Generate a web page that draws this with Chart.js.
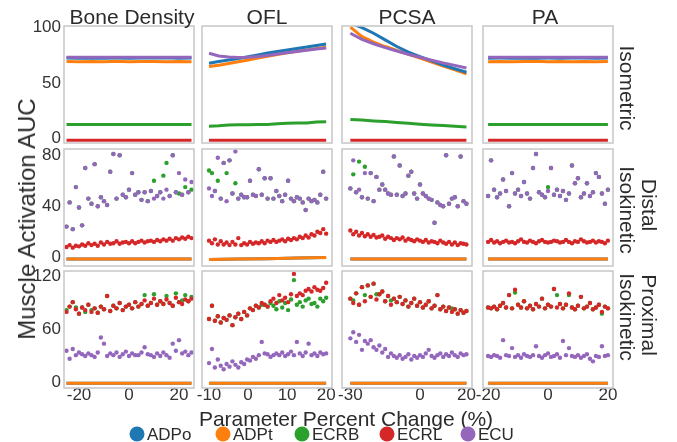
<!DOCTYPE html>
<html>
<head>
<meta charset="utf-8">
<script src="https://cdn.jsdelivr.net/npm/chart.js@4.4.1/dist/chart.umd.min.js"></script>
<style>
  body { margin: 0; background: #fff; font-family: "Liberation Sans", Arial, sans-serif; color: #2b2b2b; }
  #wrap { position: relative; width: 677px; height: 442px; overflow: hidden; }
  #wrap canvas { position: absolute; }
  .lbl { position: absolute; transform: translate(-50%, -50%); line-height: 1; white-space: nowrap; }
  .dot { position: absolute; width: 15px; height: 15px; border-radius: 50%; transform: translate(-50%, -50%); }
</style>
</head>
<body>
<div id="wrap"></div>
<script>
// ---- data ----
const muscles = ['ADPo', 'ADPt', 'ECRB', 'ECRL', 'ECU'];
const params = ['Bone Density', 'OFL', 'PCSA', 'PA'];

// x positions (parameter percent change)
const isoXBone = [-25, -20, -15, -10, -5, 0, 5, 10, 15, 20, 25];
const isoXOFL = [-10, -7.5, -5, -2.5, 0, 2.5, 5, 7.5, 10, 12.5, 15, 17.5, 20];
const isoXPCSA = [-30, -25, -20, -15, -10, -5, 0, 5, 10, 15, 20];
const isoXPA = [-20, -16, -12, -8, -4, 0, 4, 8, 12, 16, 20];

const xBone = [-25, -23.75, -22.5, -21.25, -20, -18.75, -17.5, -16.25, -15, -13.75, -12.5, -11.25, -10, -8.75, -7.5, -6.25, -5, -3.75, -2.5, -1.25, 0, 1.25, 2.5, 3.75, 5, 6.25, 7.5, 8.75, 10, 11.25, 12.5, 13.75, 15, 16.25, 17.5, 18.75, 20, 21.25, 22.5, 23.75, 25];
const xOFL = [-10, -9.25, -8.5, -7.75, -7, -6.25, -5.5, -4.75, -4, -3.25, -2.5, -1.75, -1, -0.25, 0.5, 1.25, 2, 2.75, 3.5, 4.25, 5, 5.75, 6.5, 7.25, 8, 8.75, 9.5, 10.25, 11, 11.75, 12.5, 13.25, 14, 14.75, 15.5, 16.25, 17, 17.75, 18.5, 19.25, 20];
const xPCSA = [-30, -28.75, -27.5, -26.25, -25, -23.75, -22.5, -21.25, -20, -18.75, -17.5, -16.25, -15, -13.75, -12.5, -11.25, -10, -8.75, -7.5, -6.25, -5, -3.75, -2.5, -1.25, 0, 1.25, 2.5, 3.75, 5, 6.25, 7.5, 8.75, 10, 11.25, 12.5, 13.75, 15, 16.25, 17.5, 18.75, 20];
const xPA = [-20, -19, -18, -17, -16, -15, -14, -13, -12, -11, -10, -9, -8, -7, -6, -5, -4, -3, -2, -1, 0, 1, 2, 3, 4, 5, 6, 7, 8, 9, 10, 11, 12, 13, 14, 15, 16, 17, 18, 19, 20];

const lineXBone = [-25, -12.5, 0, 12.5, 25];
const lineXOFL = [-10, -2.5, 5, 12.5, 20];
const lineXPCSA = [-30, -17.5, -5, 7.5, 20];
const lineXPA = [-20, -10, 0, 10, 20];

// Isometric
const isoBone = {
  ADPo: [72.6, 72.5, 72.7, 72.5, 72.6, 72.5, 72.7, 72.6, 72.8, 72.5, 72.6],
  ADPt: [69.6, 69.3, 69.5, 69.4, 69.7, 69.3, 69.5, 69.6, 69.2, 69.5, 69.4],
  ECRB: [12.8, 12.8, 12.7, 12.8, 12.8, 12.7, 12.8, 12.8, 12.7, 12.8, 12.8],
  ECRL: [-1.5, -1.5, -1.5, -1.5, -1.5, -1.5, -1.5, -1.5, -1.5, -1.5, -1.5],
  ECU: [73.4, 73.3, 73.4, 73.4, 73.3, 73.4, 73.4, 73.3, 73.4, 73.4, 73.3]
};
const isoOFL = {
  ADPo: [68, 69.5, 70.8, 72.2, 73.8, 75.5, 77.2, 78.5, 79.8, 81.2, 82.5, 84, 85.3],
  ADPt: [65, 66.2, 67.8, 69.3, 70.9, 72.6, 74.2, 75.8, 77.4, 78.8, 80, 81.2, 82.3],
  ECRB: [11.3, 11.6, 12.4, 12.6, 12.6, 12.7, 12.8, 13.5, 14, 14.1, 14.2, 15, 15.2],
  ECRL: [-1.5, -1.5, -1.5, -1.5, -1.5, -1.5, -1.5, -1.5, -1.5, -1.5, -1.5, -1.5, -1.5],
  ECU: [76.9, 74.5, 73.5, 73.2, 73.3, 74, 75, 76.2, 77.5, 78.6, 79.7, 80.7, 81.7]
};
const isoPCSA = {
  ADPo: [104, 100, 95, 89, 83, 78, 74, 70, 66.3, 63, 59.8],
  ADPt: [100.5, 92, 87, 83, 79.5, 76, 72.5, 69, 65.5, 62, 58.3],
  ECRB: [17.3, 16.8, 16, 15.4, 14.6, 13.8, 13, 12.4, 11.8, 11.2, 10.6],
  ECRL: [-1.5, -1.5, -1.5, -1.5, -1.5, -1.5, -1.5, -1.5, -1.5, -1.5, -1.5],
  ECU: [95, 89.5, 85.5, 82, 79, 76, 73.3, 70.7, 68.2, 66, 63.7]
};
const isoPA = {
  ADPo: [72.5, 72.6, 72.5, 72.7, 72.5, 72.6, 72.5, 72.7, 72.6, 72.5, 72.6],
  ADPt: [69.4, 69.6, 69.3, 69.5, 69.7, 69.4, 69.6, 69.3, 69.5, 69.4, 69.6],
  ECRB: [12.8, 12.8, 12.7, 12.8, 12.8, 12.8, 12.7, 12.8, 12.8, 12.7, 12.8],
  ECRL: [-1.5, -1.5, -1.5, -1.5, -1.5, -1.5, -1.5, -1.5, -1.5, -1.5, -1.5],
  ECU: [73.4, 73.3, 73.4, 73.4, 73.3, 73.4, 73.3, 73.4, 73.4, 73.3, 73.4]
};

// Distal isokinetic
const distBone = {
  ADPo: [-1.5, -1.5, -1.5, -1.5, -1.5],
  ADPt: [-1.5, -1.5, -1.5, -1.5, -1.5],
  ECRB: [24, 43, 22, 55, 39, 25, 70, 46, 42, 73, 40, 47, 44, 41, 67, 81, 46, 80, 49, 47, 53, 66, 49, 51, 45, 51, 44, 52, 60, 48, 51, 64, 74, 48, 80, 51, 50, 49, 55, 51, 53],
  ECRL: [8, 9.5, 7.5, 9, 8.5, 10, 9, 11, 9.5, 10.5, 9, 11.5, 10, 12, 10.5, 11, 12.5, 10.5, 11.5, 12, 11, 12.5, 11, 12, 13, 11.5, 12.5, 13, 12, 13.5, 12.5, 14, 13, 14.5, 13, 15, 14, 15.5, 14.5, 16, 15],
  ECU: [24, 43, 22, 55, 39, 25, 70, 46, 42, 73, 40, 47, 44, 41, 67, 81, 46, 80, 49, 47, 53, 66, 49, 51, 45, 51, 44, 52, 46, 48, 51, 46, 53, 48, 80, 51, 66, 49, 61, 51, 59]
};
const distOFL = {
  ADPo: [-1.8, -1.5, -1.2, -0.7, -0.2],
  ADPt: [-1.8, -1.5, -1.2, -0.7, -0.2],
  ECRB: [68, 66, 52, 60, 46, 74, 66, 76, 50, 58, 46, 49, 47, 47, 60, 49, 48, 69, 49, 62, 46, 62, 46, 52, 48, 44, 49, 60, 46, 44, 47, 46, 43, 37, 46, 44, 45, 43, 49, 67, 46],
  ECRL: [13, 11, 14, 10, 12.5, 10, 11.5, 9.5, 12, 10, 15, 9.5, 11, 10, 12, 10.5, 11.5, 11, 12.5, 11, 13, 12, 13.5, 12, 13, 14, 12.5, 14.5, 13.5, 15, 14, 16, 15, 17, 15.5, 18, 17, 20, 19, 22, 18.5],
  ECU: [54, 48, 52, 78, 46, 74, 44, 76, 50, 83, 46, 49, 47, 47, 60, 49, 48, 69, 49, 62, 46, 62, 46, 52, 48, 44, 49, 60, 46, 44, 47, 46, 43, 37, 46, 44, 45, 43, 49, 67, 46]
};
const distPCSA = {
  ADPo: [-1.5, -1.5, -1.5, -1.5, -1.5],
  ADPt: [-1.5, -1.5, -1.5, -1.5, -1.5],
  ECRB: [54, 65, 51, 75, 47, 71, 46, 66, 44, 63, 53, 57, 53, 50, 49, 79, 49, 72, 48, 50, 64, 67, 50, 46, 57, 50, 48, 46, 45, 27, 43, 41, 40, 80, 42, 46, 47, 40, 79, 44, 42],
  ECRL: [21, 18, 20, 17, 19, 16.5, 18, 16, 17.5, 15.5, 16, 17, 14.5, 16, 15, 13.5, 15, 14, 15.5, 13, 14.5, 13.5, 12.5, 14, 13, 12, 13.5, 11.5, 12.5, 12, 11, 13, 11.5, 10.5, 12, 10, 11.5, 9.5, 11, 10.5, 10],
  ECU: [54, 76, 51, 53, 47, 66, 46, 66, 44, 63, 53, 57, 53, 50, 49, 79, 49, 72, 48, 50, 64, 67, 50, 46, 57, 50, 48, 46, 45, 27, 43, 41, 40, 80, 42, 46, 47, 40, 79, 44, 42]
};
const distPA = {
  ADPo: [-1.5, -1.5, -1.5, -1.5, -1.5],
  ADPt: [-1.5, -1.5, -1.5, -1.5, -1.5],
  ECRB: [48, 76, 53, 47, 50, 61, 52, 40, 66, 50, 53, 48, 59, 50, 46, 70, 81, 51, 49, 47, 55, 70, 49, 53, 48, 52, 45, 50, 72, 58, 62, 47, 50, 58, 48, 51, 66, 63, 50, 42, 53],
  ECRL: [12, 13.5, 11.5, 12.5, 11, 12, 13, 11.5, 12, 11, 12.5, 14, 12, 11.5, 13, 12, 11, 12.5, 13.5, 12, 11.5, 12, 13, 12.5, 11.5, 12, 13.5, 12, 11, 12.5, 12, 14, 12.5, 11.5, 12, 13, 11.5, 12.5, 12, 11, 13],
  ECU: [48, 76, 53, 47, 50, 61, 52, 40, 66, 50, 53, 48, 59, 50, 46, 70, 81, 51, 49, 47, 52, 70, 49, 53, 48, 52, 45, 50, 72, 58, 62, 47, 50, 58, 48, 51, 66, 63, 50, 42, 53]
};

// Proximal isokinetic
const proxBone = {
  ADPo: [-0.8, -0.8, -0.8, -0.8, -0.8],
  ADPt: [-0.8, -0.8, -0.8, -0.8, -0.8],
  ECRB: [82, 86, 91, 85, 78, 85, 80, 88, 82, 84, 79, 86, 83, 98, 81, 87, 84, 90, 82, 86, 88, 84, 91, 86, 89, 99, 87, 90, 100, 88, 92, 89, 98, 90, 87, 101, 91, 93, 99, 92, 97],
  ECRL: [80, 86, 91, 83, 78, 85, 82, 88, 80, 84, 79, 86, 83, 98, 81, 87, 84, 90, 82, 86, 88, 84, 91, 86, 89, 93, 87, 90, 95, 88, 92, 89, 94, 90, 87, 96, 91, 89, 94, 92, 95],
  ECU: [36, 27, 38, 31, 34, 32, 30, 33, 31, 29, 34, 51, 44, 30, 33, 31, 34, 29, 32, 35, 30, 33, 31, 31, 34, 40, 32, 31, 29, 33, 30, 34, 31, 28, 44, 36, 48, 33, 35, 31, 34]
};
const proxOFL = {
  ADPo: [-0.8, -0.8, -0.8, -0.8, -0.8],
  ADPt: [-0.8, -0.8, -0.8, -0.8, -0.8],
  ECRB: [72, 87, 70, 75, 68, 73, 71, 76, 65, 74, 78, 72, 80, 76, 84, 82, 87, 85, 88, 88, 86, 90, 87, 83, 92, 85, 90, 82, 94, 116, 88, 91, 86, 93, 95, 89, 90, 86, 95, 92, 96],
  ECRL: [72, 87, 70, 75, 68, 73, 71, 76, 65, 74, 78, 72, 80, 76, 84, 82, 87, 85, 90, 88, 86, 92, 95, 90, 99, 93, 96, 91, 100, 123, 98, 101, 99, 104, 106, 103, 108, 105, 104, 107, 113],
  ECU: [22, 38, 17, 26, 19, 15, 21, 18, 24, 20, 17, 23, 21, 26, 25, 29, 27, 31, 46, 33, 32, 29, 31, 33, 31, 34, 30, 32, 35, 31, 46, 33, 30, 34, 44, 31, 33, 30, 34, 32, 33]
};
const proxPCSA = {
  ADPo: [-0.8, -0.8, -0.8, -0.8, -0.8],
  ADPt: [-0.8, -0.8, -0.8, -0.8, -0.8],
  ECRB: [95, 93, 101, 88, 108, 99, 110, 97, 112, 100, 100, 103, 92, 98, 93, 95, 91, 97, 89, 93, 86, 90, 95, 87, 91, 85, 88, 92, 84, 87, 99, 83, 86, 81, 85, 84, 83, 78, 82, 79, 81],
  ECRL: [95, 90, 101, 88, 108, 92, 110, 97, 112, 94, 100, 103, 92, 98, 88, 95, 91, 97, 89, 93, 86, 90, 95, 87, 91, 85, 88, 92, 84, 87, 99, 83, 86, 81, 85, 80, 83, 78, 82, 79, 81],
  ECU: [50, 57, 46, 54, 37, 47, 44, 48, 40, 37, 42, 34, 38, 29, 33, 30, 28, 31, 27, 29, 32, 26, 30, 28, 31, 29, 33, 37, 30, 28, 31, 33, 29, 32, 30, 34, 31, 29, 33, 31, 32]
};
const proxPA = {
  ADPo: [-0.8, -0.8, -0.8, -0.8, -0.8],
  ADPt: [-0.8, -0.8, -0.8, -0.8, -0.8],
  ECRB: [85, 84, 86, 83, 87, 90, 85, 99, 84, 102, 88, 85, 92, 84, 87, 83, 89, 86, 95, 84, 88, 86, 106, 99, 89, 84, 88, 99, 85, 83, 87, 97, 84, 86, 90, 83, 85, 88, 78, 86, 84],
  ECRL: [85, 84, 86, 83, 87, 90, 85, 99, 84, 105, 88, 85, 92, 84, 87, 83, 89, 86, 95, 84, 88, 86, 106, 85, 89, 84, 88, 101, 85, 83, 87, 97, 84, 86, 90, 83, 85, 88, 80, 86, 84],
  ECU: [30, 29, 31, 30, 28, 48, 31, 30, 39, 29, 31, 28, 32, 30, 29, 31, 41, 30, 28, 31, 33, 29, 30, 32, 28, 47, 31, 39, 30, 29, 31, 28, 30, 32, 27, 24, 30, 29, 41, 30, 31]
};

// tick labels
const xTicks = [[-20, 0, 20], [-10, 0, 10, 20], [-30, 0, 20], [-20, 0, 20]];
const yTicks = [[0, 50, 100], [0, 40, 80], [0, 60, 120]];

// ---- layout ----
const colors = { ADPo: '#1f77b4', ADPt: '#ff7f0e', ECRB: '#2ca02c', ECRL: '#d62728', ECU: '#9467bd' };
const FONT = "'Liberation Sans', Arial, sans-serif";
Chart.defaults.font.family = FONT;

const colLeft = [64, 202, 342, 483];
const rowTop = [26, 149, 271];
const PW = 130, PH = 117;
const xMin = [-26, -11.8, -33.6, -21.7], xMax = [26, 21.5, 22.4, 21.7];
const yMin = [-3.9, -6.9, -6.2], yMax = [101.5, 84.9, 126.3];

const panels = [
  [isoBone, isoOFL, isoPCSA, isoPA],
  [distBone, distOFL, distPCSA, distPA],
  [proxBone, proxOFL, proxPCSA, proxPA]
];
const isoX = [isoXBone, isoXOFL, isoXPCSA, isoXPA];
const scatX = [xBone, xOFL, xPCSA, xPA];
const lineX = [lineXBone, lineXOFL, lineXPCSA, lineXPA];

// grey box round each plot area
const frame = {
  id: 'frame',
  afterDraw(chart) {
    const { ctx, chartArea: a } = chart;
    ctx.save();
    ctx.strokeStyle = '#c6c6c6';
    ctx.lineWidth = 1.5;
    ctx.strokeRect(a.left, a.top, a.right - a.left, a.bottom - a.top);
    ctx.restore();
  }
};

function datasetsFor(r, c) {
  const vals = panels[r][c];
  const order = r === 0 ? ['ECU', 'ADPo', 'ADPt', 'ECRB', 'ECRL'] : ['ECU', 'ECRL', 'ECRB', 'ADPt', 'ADPo'];
  return order.map(m => {
    const line = r === 0 || m === 'ADPo' || m === 'ADPt';
    const xs = r === 0 ? isoX[c] : (line ? lineX[c] : scatX[c]);
    return {
      label: m,
      data: vals[m].map((y, i) => ({ x: xs[i], y: y })),
      showLine: line,
      borderColor: colors[m],
      backgroundColor: colors[m],
      borderWidth: line ? 3 : 0,
      pointBorderWidth: 0,
      pointRadius: line ? 0 : 2.2,
      tension: 0
    };
  });
}

const wrap = document.getElementById('wrap');

function makePanel(r, c) {
  const yw = c === 0 ? 44 : 0;
  const xh = r === 2 ? 22 : 0;
  const pad = { left: 14, right: 14, top: 10, bottom: 10 };
  const cv = document.createElement('canvas');
  cv.width = PW + yw + pad.left + pad.right;
  cv.height = PH + xh + pad.top + pad.bottom;
  cv.style.left = (colLeft[c] - yw - pad.left) + 'px';
  cv.style.top = (rowTop[r] - pad.top) + 'px';
  wrap.appendChild(cv);

  new Chart(cv, {
    type: 'scatter',
    data: { datasets: datasetsFor(r, c) },
    options: {
      responsive: false,
      animation: false,
      events: [],
      layout: { padding: pad },
      plugins: { legend: { display: false }, tooltip: { enabled: false } },
      scales: {
        x: {
          type: 'linear', min: xMin[c], max: xMax[c], display: r === 2,
          grid: { display: false, drawTicks: false }, border: { display: false },
          ticks: { font: { size: 17, lineHeight: 1 }, color: '#333', padding: -1, maxRotation: 0, minRotation: 0, autoSkip: false },
          afterBuildTicks: s => { s.ticks = xTicks[c].map(v => ({ value: v })); },
          afterFit: s => { s.height = xh; s.paddingLeft = 0; s.paddingRight = 0; }
        },
        y: {
          type: 'linear', min: yMin[r], max: yMax[r], display: c === 0,
          grid: { display: false, drawTicks: false }, border: { display: false },
          ticks: { font: { size: 17 }, color: '#333', padding: 3, autoSkip: false },
          afterBuildTicks: s => { s.ticks = yTicks[r].map(v => ({ value: v })); },
          afterFit: s => { s.width = yw; s.paddingTop = 0; s.paddingBottom = 0; }
        }
      }
    },
    plugins: [frame]
  });
}

for (let r = 0; r < 3; r++) {
  for (let c = 0; c < 4; c++) makePanel(r, c);
}

// ---- text ----
function label(text, x, y, size, rot) {
  const d = document.createElement('div');
  d.className = 'lbl';
  d.textContent = text;
  d.style.left = x + 'px';
  d.style.top = y + 'px';
  d.style.fontSize = size + 'px';
  if (rot) d.style.transform = 'translate(-50%, -50%) rotate(' + rot + 'deg)';
  wrap.appendChild(d);
}

const titleX = [132, 267, 407, 545];
params.forEach((p, i) => label(p, titleX[i], 16, 21));

label('Isometric', 627, 88, 21, 90);
label('Distal', 649, 205, 21, 90);
label('Isokinetic', 627, 210, 21, 90);
label('Proximal', 649, 315, 21, 90);
label('Isokinetic', 627, 317, 21, 90);

label('Muscle Activation AUC', 27, 219, 24, -90);
label('Parameter Percent Change (%)', 346, 418, 21, 0);

// legend
const legendX = [137, 223, 302, 387, 468];
muscles.forEach((m, i) => {
  const dot = document.createElement('div');
  dot.className = 'dot';
  dot.style.left = legendX[i] + 'px';
  dot.style.top = '434px';
  dot.style.background = colors[m];
  wrap.appendChild(dot);
  const t = document.createElement('div');
  t.className = 'lbl';
  t.textContent = m;
  t.style.fontSize = '17px';
  t.style.left = (legendX[i] + 10) + 'px';
  t.style.top = '434px';
  t.style.transform = 'translate(0, -50%)';
  wrap.appendChild(t);
});
</script>
</body>
</html>
